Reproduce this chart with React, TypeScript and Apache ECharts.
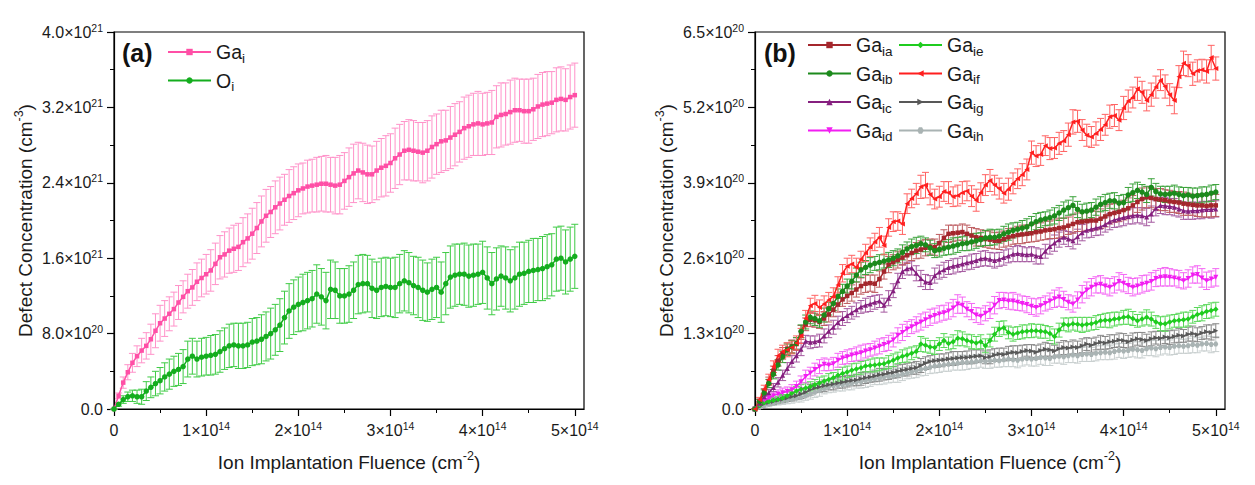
import React, { useEffect, useRef } from "react";
import * as echarts from "echarts";

// Fluence in units of 1e14 cm^-2
const fluence = [
  0, 0.05, 0.1, 0.15, 0.2, 0.25, 0.3, 0.35, 0.4, 0.45,
  0.5, 0.55, 0.6, 0.65, 0.7, 0.75, 0.8, 0.85, 0.9, 0.95,
  1.0, 1.05, 1.1, 1.15, 1.2, 1.25, 1.3, 1.35, 1.4, 1.45,
  1.5, 1.55, 1.6, 1.65, 1.7, 1.75, 1.8, 1.85, 1.9, 1.95,
  2.0, 2.05, 2.1, 2.15, 2.2, 2.25, 2.3, 2.35, 2.4, 2.45,
  2.5, 2.55, 2.6, 2.65, 2.7, 2.75, 2.8, 2.85, 2.9, 2.95,
  3.0, 3.05, 3.1, 3.15, 3.2, 3.25, 3.3, 3.35, 3.4, 3.45,
  3.5, 3.55, 3.6, 3.65, 3.7, 3.75, 3.8, 3.85, 3.9, 3.95,
  4.0, 4.05, 4.1, 4.15, 4.2, 4.25, 4.3, 4.35, 4.4, 4.45,
  4.5, 4.55, 4.6, 4.65, 4.7, 4.75, 4.8, 4.85, 4.9, 4.95,
  5.0,
];

// Panel (a): units of 1e20 cm^-3
const gaI = [
  0, 1.4, 2.8, 3.9, 4.9, 5.6, 6.2, 6.7, 7.4, 8.3,
  9.1, 9.6, 10.1, 10.6, 11.3, 11.9, 12.5, 12.9, 13.5, 13.9,
  14.3, 14.7, 15.4, 16.1, 16.4, 16.8, 17.0, 17.2, 17.7, 18.1,
  18.6, 19.2, 19.9, 20.5, 20.9, 21.4, 21.8, 22.2, 22.6, 22.9,
  23.2, 23.4, 23.6, 23.7, 23.8, 23.9, 23.9, 23.8, 23.7, 23.8,
  24.2, 24.6, 25.0, 25.3, 25.1, 24.9, 24.9, 25.3, 25.6, 25.8,
  26.1, 26.6, 27.0, 27.4, 27.5, 27.4, 27.3, 27.2, 27.4, 27.8,
  28.1, 28.4, 28.5, 28.8, 29.1, 29.4, 29.8, 30.0, 30.2, 30.3,
  30.2, 30.3, 30.4, 31.0, 31.2, 31.3, 31.5, 31.7, 31.7, 31.6,
  31.6, 31.8, 32.1, 32.3, 32.4, 32.5, 32.8, 32.9, 32.8, 33.1,
  33.3,
];
const gaIErr = [
  0, 0.3, 0.6, 0.8, 1.0, 1.1, 1.3, 1.4, 1.6, 1.8,
  1.9, 1.9, 1.8, 1.8, 1.8, 1.7, 1.8, 1.9, 2.0, 2.0,
  2.1, 2.2, 2.2, 2.3, 2.4, 2.4, 2.5, 2.5, 2.6, 2.6,
  2.7, 2.7, 2.7, 2.8, 2.7, 2.8, 2.8, 2.7, 2.8, 2.8,
  2.8, 2.7, 2.8, 2.8, 2.9, 2.9, 3.0, 2.9, 3.0, 3.1,
  3.0, 3.1, 3.1, 3.0, 3.1, 3.1, 3.0, 3.1, 3.1, 3.2,
  3.1, 3.2, 3.2, 3.1, 3.2, 3.2, 3.1, 3.2, 3.2, 3.3,
  3.2, 3.3, 3.2, 3.3, 3.3, 3.2, 3.3, 3.3, 3.3, 3.4,
  3.3, 3.3, 3.4, 3.3, 3.4, 3.3, 3.4, 3.4, 3.3, 3.4,
  3.4, 3.3, 3.4, 3.4, 3.4, 3.3, 3.4, 3.4, 3.3, 3.4,
  3.4,
];
const oI = [
  0, 0.5, 1.0, 1.3, 1.4, 1.3, 1.3, 1.9, 2.3, 2.7,
  3.0, 3.4, 3.7, 4.0, 4.2, 4.5, 5.3, 5.6, 5.3, 5.5,
  5.6, 5.7, 5.8, 6.1, 6.4, 6.7, 6.8, 6.7, 6.7, 6.8,
  7.1, 7.2, 7.4, 7.7, 8.0, 8.4, 8.9, 9.7, 10.4, 10.8,
  11.1, 11.3, 11.5, 11.7, 12.2, 11.9, 11.5, 12.7, 12.6, 12.0,
  12.0, 12.2, 12.6, 13.2, 13.3, 13.3, 12.8, 12.6, 12.9, 13.0,
  12.9, 12.9, 13.3, 13.6, 13.4, 13.1, 12.9, 12.6, 12.4, 12.7,
  12.9, 12.4, 13.3, 14.0, 14.2, 14.3, 14.3, 14.1, 14.2, 14.3,
  14.5, 13.9, 13.3, 13.8, 14.1, 13.9, 13.6, 13.9, 14.3, 14.4,
  14.6, 14.7, 14.8, 14.9, 15.1, 15.3, 15.9, 16.0, 15.6, 15.9,
  16.2,
];
const oIErr = [
  0, 0.2, 0.4, 0.5, 0.6, 0.7, 0.8, 1.0, 1.1, 1.3,
  1.4, 1.5, 1.6, 1.6, 1.7, 1.8, 1.9, 1.9, 1.9, 2.0,
  2.0, 2.1, 2.1, 2.2, 2.2, 2.3, 2.3, 2.4, 2.4, 2.4,
  2.5, 2.5, 2.6, 2.6, 2.7, 2.7, 2.8, 2.8, 2.9, 2.9,
  2.9, 3.0, 3.0, 3.0, 3.1, 3.0, 3.0, 3.1, 3.0, 2.9,
  2.9, 3.0, 3.0, 3.1, 3.1, 3.0, 3.1, 3.0, 3.1, 3.1,
  3.1, 3.2, 3.1, 3.2, 3.2, 3.1, 3.2, 3.2, 3.1, 3.2,
  3.2, 3.2, 3.3, 3.3, 3.3, 3.2, 3.3, 3.3, 3.3, 3.2,
  3.3, 3.3, 3.3, 3.3, 3.2, 3.3, 3.3, 3.3, 3.4, 3.3,
  3.3, 3.4, 3.3, 3.4, 3.4, 3.3, 3.4, 3.4, 3.4, 3.4,
  3.4,
];

// Panel (b): units of 1e19 cm^-3
const gaIa = [
  0, 1.4, 3.0, 4.8, 6.6, 8.3, 9.6, 10.4, 10.8, 11.2,
  13.2, 14.6, 15.4, 15.3, 15.0, 15.6, 16.3, 17.1, 18.0, 18.9,
  19.5, 20.0, 20.6, 21.2, 21.6, 21.7, 21.6, 22.4, 23.7, 24.9,
  25.3, 25.7, 26.1, 26.5, 26.9, 27.3, 27.5, 27.8, 28.0, 27.9,
  28.6, 29.5, 30.2, 30.3, 30.4, 30.5, 30.2, 29.9, 29.6, 29.5,
  29.3, 29.2, 29.0, 29.0, 29.3, 29.6, 29.8, 30.0, 30.1, 30.2,
  30.3, 30.5, 30.6, 30.8, 30.9, 31.0, 31.2, 31.3, 31.6, 31.9,
  32.2, 32.3, 32.4, 32.5, 32.5, 32.8, 33.2, 33.6, 33.8, 34.0,
  34.3, 34.6, 35.1, 35.7, 36.2, 36.5, 36.4, 36.2, 36.1, 36.0,
  35.8, 35.7, 35.6, 35.4, 35.3, 35.2, 35.1, 35.1, 35.0, 35.1,
  35.1,
];
const gaIaErr = [
  0, 0.3, 0.5, 0.7, 0.8, 0.9, 1.0, 1.0, 1.1, 1.1,
  1.2, 1.1, 1.2, 1.2, 1.1, 1.2, 1.3, 1.2, 1.3, 1.2,
  1.3, 1.4, 1.3, 1.4, 1.5, 1.4, 1.5, 1.4, 1.3, 1.4,
  1.3, 1.4, 1.3, 1.4, 1.3, 1.4, 1.5, 1.4, 1.3, 1.4,
  1.5, 1.4, 1.5, 1.4, 1.3, 1.4, 1.5, 1.4, 1.5, 1.4,
  1.4, 1.5, 1.4, 1.5, 1.4, 1.5, 1.4, 1.5, 1.6, 1.5,
  1.5, 1.6, 1.5, 1.6, 1.5, 1.6, 1.7, 1.6, 1.5, 1.6,
  1.6, 1.7, 1.6, 1.7, 1.6, 1.7, 1.8, 1.7, 1.6, 1.7,
  1.7, 1.8, 1.7, 1.8, 1.9, 1.8, 1.7, 1.8, 1.9, 1.8,
  1.9, 1.8, 1.9, 2.0, 1.9, 1.8, 1.9, 2.0, 1.9, 2.0,
  1.9,
];
const gaIb = [
  0, 1.3, 2.8, 4.4, 6.0, 7.6, 9.0, 10.2, 10.7, 11.3,
  13.4, 15.0, 15.8, 15.6, 15.2, 16.2, 17.3, 18.2, 19.4, 20.3,
  21.2, 22.0, 23.1, 24.0, 24.4, 24.8, 25.1, 25.3, 25.5, 25.7,
  26.0, 26.4, 27.0, 27.6, 28.0, 28.2, 28.5, 28.3, 27.8, 27.3,
  27.5, 27.7, 27.9, 28.1, 28.3, 28.5, 28.6, 28.8, 29.0, 29.2,
  29.5, 29.6, 29.6, 29.8, 30.2, 30.5, 30.8, 31.0, 31.2, 31.4,
  31.9, 32.3, 32.6, 32.8, 33.0, 33.3, 33.8, 34.3, 34.7, 35.1,
  34.4, 34.0, 34.1, 34.3, 34.8, 35.3, 35.6, 35.9, 35.9, 35.5,
  35.6, 36.9, 37.3, 37.7, 37.4, 37.0, 38.2, 37.5, 37.1, 37.0,
  37.1, 37.2, 37.0, 36.8, 36.9, 36.7, 36.8, 36.9, 37.0, 37.2,
  37.4,
];
const gaIbErr = [
  0, 0.3, 0.5, 0.7, 0.8, 0.9, 1.0, 1.0, 1.1, 1.0,
  1.1, 1.2, 1.1, 1.2, 1.1, 1.2, 1.1, 1.2, 1.3, 1.2,
  1.2, 1.3, 1.2, 1.3, 1.2, 1.3, 1.2, 1.3, 1.2, 1.3,
  1.3, 1.2, 1.3, 1.2, 1.3, 1.4, 1.3, 1.2, 1.3, 1.2,
  1.3, 1.2, 1.3, 1.4, 1.3, 1.2, 1.3, 1.4, 1.3, 1.2,
  1.3, 1.4, 1.3, 1.2, 1.3, 1.4, 1.3, 1.2, 1.3, 1.4,
  1.3, 1.4, 1.3, 1.2, 1.3, 1.4, 1.3, 1.4, 1.3, 1.5,
  1.4, 1.3, 1.4, 1.3, 1.4, 1.3, 1.4, 1.3, 1.4, 1.3,
  1.4, 1.3, 1.5, 1.4, 1.3, 1.4, 1.5, 1.4, 1.3, 1.4,
  1.3, 1.4, 1.3, 1.4, 1.3, 1.4, 1.3, 1.4, 1.3, 1.4,
  1.3,
];
const gaIc = [
  0, 1.0, 2.1, 2.8, 3.7, 4.6, 5.8, 7.0, 8.2, 9.2,
  10.3, 11.7, 11.5, 11.6, 11.8, 12.6, 13.4, 14.1, 14.9, 15.6,
  16.1, 16.6, 17.1, 17.6, 17.9, 18.1, 18.4, 18.6, 17.9, 19.1,
  20.4, 22.1, 23.7, 24.2, 24.3, 23.4, 22.5, 21.9, 21.8, 23.0,
  23.6, 24.0, 24.4, 24.6, 24.8, 25.0, 25.2, 25.4, 25.6, 25.9,
  26.0, 25.8, 25.6, 25.8, 26.1, 26.4, 26.7, 26.8, 26.7, 26.6,
  26.7, 26.4, 26.3, 27.2, 28.0, 28.6, 29.2, 29.6, 29.3, 29.0,
  29.7, 30.4, 30.8, 31.0, 31.2, 31.4, 31.8, 32.3, 32.6, 32.8,
  33.0, 33.2, 33.3, 33.4, 33.3, 33.1, 33.6, 34.6, 35.1, 35.0,
  34.9, 34.8, 34.5, 34.2, 34.1, 34.2, 34.2, 34.3, 34.4, 34.4,
  34.5,
];
const gaIcErr = [
  0, 0.3, 0.5, 0.6, 0.7, 0.8, 0.9, 1.0, 1.0, 1.1,
  1.1, 1.0, 1.1, 1.0, 1.1, 1.2, 1.1, 1.2, 1.1, 1.2,
  1.2, 1.1, 1.2, 1.1, 1.2, 1.3, 1.2, 1.1, 1.2, 1.3,
  1.2, 1.3, 1.2, 1.1, 1.2, 1.3, 1.4, 1.3, 1.2, 1.3,
  1.2, 1.3, 1.2, 1.3, 1.2, 1.3, 1.2, 1.3, 1.2, 1.3,
  1.3, 1.2, 1.3, 1.2, 1.3, 1.2, 1.3, 1.4, 1.3, 1.2,
  1.3, 1.4, 1.3, 1.2, 1.3, 1.4, 1.3, 1.2, 1.3, 1.4,
  1.3, 1.4, 1.3, 1.4, 1.3, 1.4, 1.3, 1.4, 1.3, 1.4,
  1.4, 1.3, 1.4, 1.3, 1.4, 1.5, 1.4, 1.3, 1.4, 1.5,
  1.4, 1.5, 1.4, 1.5, 1.4, 1.5, 1.4, 1.5, 1.4, 1.5,
  1.4,
];
const gaId = [
  0, 0.8, 1.5, 1.9, 2.3, 2.6, 2.8, 3.0, 3.3, 3.9,
  4.7, 5.6, 6.2, 6.8, 7.3, 7.7, 7.6, 7.8, 8.4, 8.8,
  9.0, 9.3, 9.5, 9.7, 10.0, 10.2, 10.5, 10.8, 11.1, 11.4,
  11.9, 12.7, 13.2, 13.8, 14.2, 14.6, 15.0, 15.4, 15.8, 16.1,
  16.4, 16.6, 16.9, 17.4, 18.1, 17.9, 17.2, 16.8, 16.2, 16.0,
  16.5, 17.0, 17.9, 18.7, 18.8, 18.6, 18.6, 18.4, 18.2, 18.0,
  17.7, 17.5, 17.8, 18.2, 18.6, 19.0, 19.3, 18.9, 18.4, 18.1,
  18.8, 19.8, 20.5, 21.0, 21.4, 21.5, 21.2, 21.0, 21.4, 22.0,
  21.7, 21.3, 21.0, 21.2, 21.5, 21.7, 22.0, 22.5, 22.7, 22.8,
  22.7, 22.6, 22.4, 22.1, 22.5, 23.1, 23.2, 22.6, 22.1, 22.4,
  22.7,
];
const gaIdErr = [
  0, 0.2, 0.4, 0.5, 0.6, 0.7, 0.8, 0.8, 0.9, 0.9,
  1.0, 1.1, 1.0, 1.1, 1.2, 1.1, 1.0, 1.1, 1.2, 1.1,
  1.2, 1.1, 1.2, 1.3, 1.2, 1.1, 1.2, 1.3, 1.2, 1.3,
  1.2, 1.3, 1.4, 1.3, 1.2, 1.3, 1.4, 1.3, 1.4, 1.3,
  1.4, 1.3, 1.4, 1.5, 1.6, 1.4, 1.3, 1.4, 1.3, 1.4,
  1.3, 1.4, 1.5, 1.4, 1.3, 1.4, 1.5, 1.4, 1.3, 1.4,
  1.4, 1.5, 1.4, 1.3, 1.4, 1.5, 1.6, 1.4, 1.3, 1.4,
  1.4, 1.5, 1.4, 1.5, 1.4, 1.5, 1.4, 1.5, 1.4, 1.5,
  1.5, 1.4, 1.5, 1.4, 1.5, 1.4, 1.5, 1.4, 1.5, 1.6,
  1.5, 1.4, 1.5, 1.4, 1.5, 1.4, 1.5, 1.6, 1.5, 1.4,
  1.5,
];
const gaIe = [
  0, 0.6, 1.1, 1.3, 1.5, 1.7, 1.9, 2.3, 2.7, 3.1,
  3.4, 3.6, 3.9, 4.2, 4.5, 4.8, 5.1, 5.4, 5.8, 6.1,
  6.4, 6.7, 6.9, 7.1, 7.4, 7.5, 7.6, 7.7, 7.8, 8.1,
  8.4, 8.8, 9.1, 9.3, 9.6, 9.9, 11.2, 11.0, 10.7, 10.6,
  11.2, 11.8, 11.3, 11.6, 12.2, 12.1, 11.8, 11.6, 11.4, 11.6,
  10.9, 11.8, 12.9, 13.8, 14.0, 13.2, 12.9, 13.1, 13.3, 13.4,
  13.5, 13.5, 13.4, 13.3, 13.0, 12.5, 13.6, 14.6, 14.5, 14.7,
  14.6, 14.5, 14.6, 14.7, 14.9, 15.2, 15.3, 15.3, 15.5, 15.6,
  15.8, 15.9, 15.6, 15.2, 15.5, 15.8, 15.5, 15.0, 14.7, 14.7,
  15.0, 15.2, 15.3, 15.4, 15.5, 15.9, 16.3, 16.5, 16.8, 17.0,
  17.2,
];
const gaIeErr = [
  0, 0.2, 0.3, 0.4, 0.5, 0.5, 0.6, 0.7, 0.7, 0.8,
  0.8, 0.9, 0.8, 0.9, 1.0, 0.9, 1.0, 0.9, 1.0, 1.1,
  1.0, 1.1, 1.0, 1.1, 1.0, 1.1, 1.2, 1.1, 1.0, 1.1,
  1.1, 1.0, 1.1, 1.2, 1.1, 1.0, 1.3, 1.2, 1.1, 1.2,
  1.1, 1.2, 1.1, 1.2, 1.3, 1.2, 1.1, 1.2, 1.1, 1.2,
  1.2, 1.1, 1.2, 1.3, 1.2, 1.1, 1.2, 1.1, 1.2, 1.1,
  1.2, 1.1, 1.2, 1.1, 1.2, 1.3, 1.2, 1.1, 1.2, 1.1,
  1.2, 1.3, 1.2, 1.1, 1.2, 1.1, 1.2, 1.3, 1.2, 1.1,
  1.2, 1.3, 1.2, 1.1, 1.2, 1.3, 1.2, 1.1, 1.2, 1.3,
  1.2, 1.1, 1.2, 1.3, 1.2, 1.1, 1.2, 1.3, 1.2, 1.3,
  1.2,
];
const gaIf = [
  0, 1.6, 3.4, 5.1, 7.3, 9.2, 9.9, 10.2, 10.6, 11.4,
  12.6, 15.6, 17.8, 18.2, 17.5, 18.1, 18.8, 19.4, 21.4, 23.4,
  24.6, 25.0, 24.4, 25.8, 26.9, 27.9, 28.8, 29.6, 28.2, 31.3,
  32.3, 32.4, 31.9, 35.4, 36.3, 37.1, 38.3, 38.6, 37.0, 36.2,
  36.6, 37.5, 37.3, 36.6, 36.8, 37.3, 37.6, 36.7, 36.0, 37.3,
  38.6, 39.4, 38.6, 38.0, 37.2, 37.9, 38.9, 39.7, 40.4, 41.3,
  44.2, 43.6, 43.9, 45.4, 44.9, 45.0, 45.8, 46.2, 47.3, 49.5,
  49.6, 48.1, 47.2, 46.9, 47.5, 48.2, 49.0, 50.4, 50.6, 49.8,
  51.9, 53.1, 53.7, 55.2, 54.6, 53.2, 54.2, 55.5, 56.7, 55.6,
  54.2, 53.2, 57.3, 59.6, 59.2, 57.8, 58.3, 58.5, 58.2, 60.6,
  58.7,
];
const gaIfErr = [
  0, 0.4, 0.7, 0.9, 1.0, 1.1, 1.1, 1.2, 1.1, 1.2,
  1.3, 1.4, 1.3, 1.4, 1.3, 1.4, 1.3, 1.5, 1.4, 1.5,
  1.4, 1.5, 1.6, 1.4, 1.5, 1.6, 1.5, 1.7, 1.6, 1.5,
  1.7, 1.6, 1.8, 1.7, 1.6, 1.8, 2.0, 2.2, 1.8, 1.7,
  1.8, 1.7, 1.9, 1.7, 1.8, 1.9, 1.7, 1.8, 1.9, 1.7,
  1.8, 1.9, 1.7, 1.8, 1.7, 1.9, 1.8, 1.7, 1.9, 1.8,
  2.0, 1.8, 1.9, 1.7, 1.9, 1.8, 1.9, 1.8, 2.0, 2.1,
  1.9, 1.8, 1.9, 1.8, 2.0, 1.9, 1.8, 2.0, 1.9, 1.8,
  2.0, 1.9, 1.8, 2.0, 1.9, 1.8, 2.0, 1.9, 1.8, 2.0,
  1.9, 2.3, 1.9, 2.1, 1.9, 2.0, 1.9, 1.8, 2.0, 2.1,
  2.0,
];
const gaIg = [
  0, 0.4, 0.9, 1.1, 1.3, 1.5, 1.7, 1.9, 2.1, 2.3,
  2.6, 2.9, 3.3, 3.6, 3.8, 4.0, 4.2, 4.3, 4.5, 4.6,
  4.8, 4.9, 5.0, 5.2, 5.4, 5.5, 5.7, 5.9, 6.0, 6.2,
  6.3, 6.5, 6.7, 6.8, 7.0, 7.1, 7.5, 7.9, 8.2, 8.3,
  8.4, 8.5, 8.6, 8.7, 8.8, 8.9, 8.9, 9.0, 9.1, 9.2,
  8.9, 9.0, 9.3, 9.5, 9.4, 9.6, 9.8, 9.7, 9.9, 10.1,
  10.0, 9.8, 10.1, 10.3, 10.2, 10.0, 10.4, 10.6, 10.5, 10.7,
  10.6, 10.9, 11.2, 11.0, 11.3, 11.5, 11.4, 11.6, 11.7, 11.9,
  11.8, 11.6, 11.9, 12.1, 12.0, 11.8, 12.1, 12.3, 12.2, 12.4,
  12.3, 12.5, 12.7, 12.6, 12.9, 13.0, 12.8, 13.1, 13.3, 13.2,
  13.5,
];
const gaIgErr = [
  0, 0.2, 0.3, 0.4, 0.5, 0.5, 0.6, 0.6, 0.7, 0.7,
  0.8, 0.8, 0.9, 0.8, 0.9, 1.0, 0.9, 1.0, 0.9, 1.0,
  1.0, 0.9, 1.0, 1.1, 1.0, 0.9, 1.0, 1.1, 1.0, 1.1,
  1.0, 1.1, 1.0, 1.1, 1.0, 1.1, 1.2, 1.1, 1.0, 1.1,
  1.1, 1.0, 1.1, 1.2, 1.1, 1.0, 1.1, 1.2, 1.1, 1.0,
  1.1, 1.2, 1.1, 1.0, 1.1, 1.2, 1.1, 1.2, 1.1, 1.0,
  1.1, 1.2, 1.1, 1.2, 1.1, 1.0, 1.1, 1.2, 1.1, 1.2,
  1.1, 1.2, 1.1, 1.2, 1.1, 1.2, 1.1, 1.2, 1.1, 1.2,
  1.2, 1.1, 1.2, 1.1, 1.2, 1.1, 1.2, 1.1, 1.2, 1.1,
  1.2, 1.1, 1.2, 1.1, 1.2, 1.3, 1.2, 1.1, 1.2, 1.3,
  1.2,
];
const gaIh = [
  0, 0.3, 0.6, 0.8, 1.0, 1.2, 1.4, 1.5, 1.7, 1.9,
  2.0, 2.3, 2.6, 2.9, 3.2, 3.5, 3.8, 4.0, 4.1, 4.2,
  4.3, 4.4, 4.6, 4.7, 4.9, 5.0, 5.2, 5.3, 5.5, 5.6,
  5.7, 5.8, 6.0, 6.2, 6.4, 6.6, 6.8, 7.0, 7.2, 7.4,
  7.5, 7.6, 7.7, 7.8, 7.9, 8.0, 8.0, 8.1, 8.2, 8.3,
  8.2, 8.3, 8.4, 8.3, 8.5, 8.6, 8.5, 8.4, 8.6, 8.7,
  8.6, 8.7, 8.9, 8.8, 8.7, 9.0, 9.1, 9.0, 9.2, 9.3,
  9.2, 9.4, 9.5, 9.4, 9.6, 9.7, 9.8, 9.7, 9.9, 10.1,
  10.0, 10.1, 10.3, 10.2, 10.1, 10.4, 10.5, 10.4, 10.6, 10.7,
  10.6, 10.8, 10.9, 10.8, 10.9, 11.1, 11.0, 11.2, 11.3, 11.1,
  11.2,
];
const gaIhErr = [
  0, 0.2, 0.3, 0.4, 0.4, 0.5, 0.6, 0.6, 0.7, 0.7,
  0.8, 0.8, 0.9, 0.9, 1.0, 0.9, 1.0, 1.1, 1.0, 1.1,
  1.0, 1.1, 1.0, 1.1, 1.2, 1.1, 1.0, 1.1, 1.2, 1.1,
  1.1, 1.2, 1.1, 1.0, 1.1, 1.2, 1.1, 1.2, 1.1, 1.2,
  1.2, 1.1, 1.2, 1.1, 1.2, 1.3, 1.2, 1.1, 1.2, 1.1,
  1.2, 1.3, 1.2, 1.1, 1.2, 1.3, 1.2, 1.3, 1.2, 1.1,
  1.2, 1.3, 1.2, 1.3, 1.2, 1.1, 1.2, 1.3, 1.2, 1.3,
  1.3, 1.2, 1.3, 1.2, 1.3, 1.2, 1.3, 1.2, 1.3, 1.2,
  1.3, 1.2, 1.3, 1.4, 1.3, 1.2, 1.3, 1.4, 1.3, 1.2,
  1.3, 1.4, 1.3, 1.2, 1.3, 1.4, 1.3, 1.2, 1.3, 1.4,
  1.3,
];

// Ticks and labels
const xTickValues = [0, 1, 2, 3, 4, 5];
const xMinorValues = [0.5, 1.5, 2.5, 3.5, 4.5];
const xTickLabels = ["0", "1×10^14", "2×10^14", "3×10^14", "4×10^14", "5×10^14"];
const leftYTickLabels = ["0.0", "8.0×10^20", "1.6×10^21", "2.4×10^21", "3.2×10^21", "4.0×10^21"];
const rightYTickLabels = ["0.0", "1.3×10^20", "2.6×10^20", "3.9×10^20", "5.2×10^20", "6.5×10^20"];
const xTitle = "Ion Implantation Fluence (cm^-2)";
const yTitle = "Defect Concentration (cm^-3)";
const legendA = ["Ga_i", "O_i"];
const legendB1 = ["Ga_ia", "Ga_ib", "Ga_ic", "Ga_id"];
const legendB2 = ["Ga_ie", "Ga_if", "Ga_ig", "Ga_ih"];

const FONT = "'Liberation Sans', Arial, Helvetica, sans-serif";
const TXT = "#1a1a1a";

const SYM_LEFT = "path://M0,5 L10,0 L10,10 Z";
const SYM_RIGHT = "path://M10,5 L0,0 L0,10 Z";
const SYM_DOWN = "path://M0,0 L10,0 L5,10 Z";
const SYM_HEX = "path://M2.5,0 L7.5,0 L10,5 L7.5,10 L2.5,10 L0,5 Z";

const richify = (s: string) => s.replace(/\^([^\s)]+)/, "{sup|$1}");
const subify = (s: string) => {
  const i = s.indexOf("_");
  return i < 0 ? `{b|${s}}` : `{b|${s.slice(0, i)}}{sub|${s.slice(i + 1)}}`;
};

const tickRich = {
  sup: { fontSize: 10.5, lineHeight: 10, verticalAlign: "top", fontFamily: FONT, color: TXT },
};
const titleRich = {
  sup: { fontSize: 12.5, lineHeight: 12, verticalAlign: "top", fontFamily: FONT, color: TXT },
};

function errorSeries(ys: number[], es: number[], color: string, axis: number) {
  return {
    type: "custom",
    xAxisIndex: axis,
    yAxisIndex: axis,
    silent: true,
    z: 2,
    data: fluence.map((x, i) => [x, ys[i], es[i]]),
    encode: { x: 0, y: 1 },
    renderItem: (params: any, api: any) => {
      const x = api.value(0);
      const y = api.value(1);
      const e = api.value(2);
      const p1 = api.coord([x, y + e]);
      const p2 = api.coord([x, y - e]);
      const w = 3.5;
      const style = { stroke: color, lineWidth: 1, fill: "none" };
      return {
        type: "group",
        children: [
          { type: "line", shape: { x1: p1[0], y1: p1[1], x2: p2[0], y2: p2[1] }, style },
          { type: "line", shape: { x1: p1[0] - w, y1: p1[1], x2: p1[0] + w, y2: p1[1] }, style },
          { type: "line", shape: { x1: p2[0] - w, y1: p2[1], x2: p2[0] + w, y2: p2[1] }, style },
        ],
      };
    },
  };
}

function lineSeries(name: string, ys: number[], color: string, symbol: string, axis: number, size = 5) {
  return {
    type: "line",
    name,
    xAxisIndex: axis,
    yAxisIndex: axis,
    z: 3,
    data: fluence.map((x, i) => [x, ys[i]]),
    symbol,
    symbolSize: size,
    showSymbol: true,
    lineStyle: { width: 1.5, color },
    itemStyle: { color },
  };
}

const axisLineStyle = { color: "#000", width: 1.2 };

function xMain(gridIndex: number) {
  return {
    type: "value",
    gridIndex,
    min: 0,
    max: 5.1,
    interval: 1,
    axisLine: { show: true, onZero: false, lineStyle: axisLineStyle },
    axisTick: { show: true, inside: false, length: 7, lineStyle: axisLineStyle, customValues: xTickValues },
    splitLine: { show: false },
    axisLabel: {
      show: true,
      margin: 11,
      fontSize: 16,
      lineHeight: 20,
      color: TXT,
      fontFamily: FONT,
      customValues: xTickValues,
      formatter: (v: number) => {
        const k = xTickValues.indexOf(v);
        return k < 0 ? "" : richify(xTickLabels[k]);
      },
      rich: tickRich,
    },
    name: richify(xTitle),
    nameLocation: "middle",
    nameGap: 40,
    nameTextStyle: { fontSize: 19, lineHeight: 26, color: TXT, fontFamily: FONT, rich: titleRich },
  };
}

function xMinor(gridIndex: number) {
  return {
    type: "value",
    gridIndex,
    min: 0,
    max: 5.1,
    interval: 0.5,
    position: "bottom",
    axisLine: { show: false },
    axisLabel: { show: false },
    splitLine: { show: false },
    axisTick: { show: true, inside: false, length: 4, lineStyle: { color: "#000", width: 1 }, customValues: xMinorValues },
  };
}

function yAxis(gridIndex: number, max: number, step: number, labels: string[]) {
  return {
    type: "value",
    gridIndex,
    min: 0,
    max,
    interval: step,
    axisLine: { show: true, onZero: false, lineStyle: axisLineStyle },
    axisTick: { show: true, inside: false, length: 7, lineStyle: axisLineStyle },
    minorTick: { show: true, splitNumber: 2, length: 4, lineStyle: { color: "#000", width: 1 } },
    splitLine: { show: false },
    minorSplitLine: { show: false },
    axisLabel: {
      show: true,
      margin: 11,
      fontSize: 16,
      lineHeight: 20,
      color: TXT,
      fontFamily: FONT,
      formatter: (v: number) => richify(labels[Math.round(v / step)] ?? ""),
      rich: tickRich,
    },
    name: richify(yTitle),
    nameLocation: "middle",
    nameGap: 72,
    nameRotate: 90,
    nameTextStyle: { fontSize: 19, lineHeight: 26, color: TXT, fontFamily: FONT, rich: titleRich },
  };
}

function legend(data: string[], left: number, top: number) {
  return {
    data,
    orient: "vertical",
    left,
    top,
    padding: 0,
    itemWidth: 43,
    itemHeight: 8,
    itemGap: 2.5,
    selectedMode: false,
    formatter: (n: string) => subify(n),
    textStyle: {
      fontSize: 19,
      lineHeight: 26,
      color: TXT,
      fontFamily: FONT,
      rich: {
        b: { fontSize: 19.5, lineHeight: 26, fontFamily: FONT, color: TXT },
        sub: { fontSize: 13.5, lineHeight: 13, verticalAlign: "bottom", fontFamily: FONT, color: TXT },
      },
    },
  };
}

const C = {
  gaI: "#ff4fa6", gaIE: "#ff92c9",
  oI: "#14ad1e", oIE: "#3fcb45",
  ia: "#a4262c", iaE: "#bd5a5e",
  ib: "#1c8a1c", ibE: "#3aa23a",
  ic: "#86207f", icE: "#a55aa0",
  id: "#f21ef2", idE: "#f466f4",
  ie: "#1fcc1f", ieE: "#5ad85a",
  if: "#ff1f1f", ifE: "#ff6262",
  ig: "#585858", igE: "#888888",
  ih: "#a9b3b3", ihE: "#c8cfcf",
};

export default function App() {
  const ref = useRef<HTMLDivElement>(null);
  useEffect(() => {
    if (!ref.current) return;
    const chart = echarts.init(ref.current, null, { renderer: "svg" });
    const option: any = {
      animation: false,
      backgroundColor: "#fff",
      textStyle: { fontFamily: FONT },
      grid: [
        { left: 114, top: 32, width: 470, height: 377, show: true, borderColor: "#000", borderWidth: 1.2, backgroundColor: "transparent" },
        { left: 755, top: 32, width: 470, height: 377, show: true, borderColor: "#000", borderWidth: 1.2, backgroundColor: "transparent" },
      ],
      xAxis: [xMain(0), xMain(1), xMinor(0), xMinor(1)],
      yAxis: [yAxis(0, 40, 8, leftYTickLabels), yAxis(1, 65, 13, rightYTickLabels)],
      legend: [legend(legendA, 167, 39), legend(legendB1, 807, 32), legend(legendB2, 898, 32)],
      graphic: [
        { type: "text", x: 122, y: 53, style: { text: "(a)", fontSize: 25, fontWeight: "bold", fontFamily: FONT, fill: "#111", verticalAlign: "middle", align: "left" } },
        { type: "text", x: 764, y: 53, style: { text: "(b)", fontSize: 25, fontWeight: "bold", fontFamily: FONT, fill: "#111", verticalAlign: "middle", align: "left" } },
      ],
      series: [
        errorSeries(gaI, gaIErr, C.gaIE, 0),
        errorSeries(oI, oIErr, C.oIE, 0),
        lineSeries("Ga_i", gaI, C.gaI, "rect", 0, 4.5),
        lineSeries("O_i", oI, C.oI, "circle", 0, 5.5),

        errorSeries(gaIh, gaIhErr, C.ihE, 1),
        errorSeries(gaIg, gaIgErr, C.igE, 1),
        errorSeries(gaIe, gaIeErr, C.ieE, 1),
        errorSeries(gaId, gaIdErr, C.idE, 1),
        errorSeries(gaIc, gaIcErr, C.icE, 1),
        errorSeries(gaIa, gaIaErr, C.iaE, 1),
        errorSeries(gaIb, gaIbErr, C.ibE, 1),
        errorSeries(gaIf, gaIfErr, C.ifE, 1),
        lineSeries("Ga_ih", gaIh, C.ih, SYM_HEX, 1),
        lineSeries("Ga_ig", gaIg, C.ig, SYM_RIGHT, 1),
        lineSeries("Ga_ie", gaIe, C.ie, "diamond", 1, 5.5),
        lineSeries("Ga_id", gaId, C.id, SYM_DOWN, 1),
        lineSeries("Ga_ic", gaIc, C.ic, "triangle", 1),
        lineSeries("Ga_ia", gaIa, C.ia, "rect", 1, 4.5),
        lineSeries("Ga_ib", gaIb, C.ib, "circle", 1, 5.5),
        lineSeries("Ga_if", gaIf, C.if, SYM_LEFT, 1),
      ],
    };
    chart.setOption(option);
    return () => chart.dispose();
  }, []);
  return (
    <div
      ref={ref}
      style={{ position: "fixed", left: 0, top: 0, width: 1255, height: 485, background: "#fff" }}
    />
  );
}
